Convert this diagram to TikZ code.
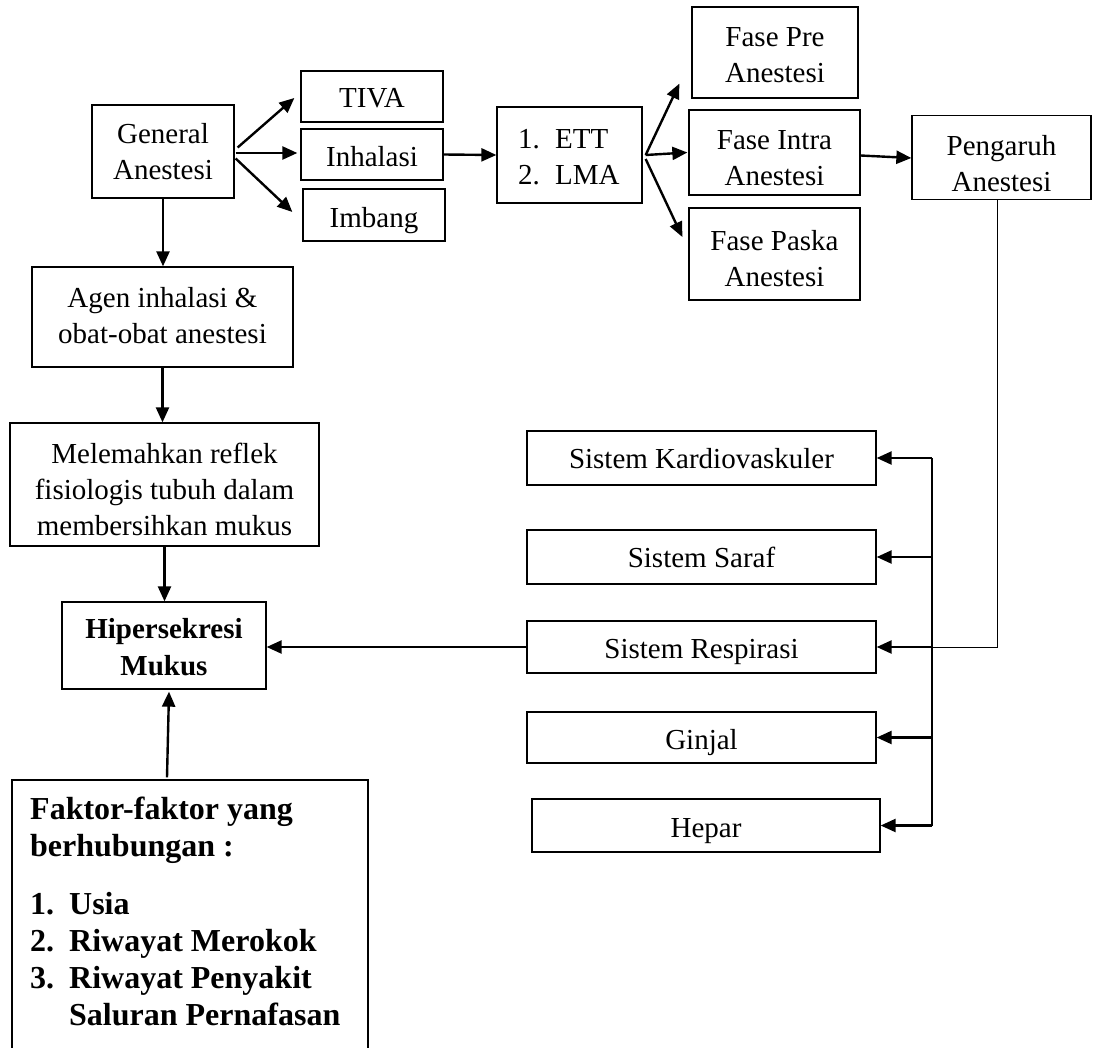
\documentclass[tikz,border=0pt]{standalone}
\usepackage{fontspec}
\setmainfont{Liberation Serif}
\usetikzlibrary{arrows.meta,calc}
\newcommand{\tr}[1]{\rule{0pt}{#1pt}}
\newcommand{\br}{\rule[-8pt]{0pt}{8pt}}
\begin{document}
\begin{tikzpicture}[x=1pt,y=-1pt,
  box/.style={draw, line width=1.3pt, rectangle, align=center, inner sep=0pt, font=\fontsize{29}{36}\selectfont},
  arr/.style={line width=2.4pt, -{Triangle[length=15pt,width=13pt]}},
  thinline/.style={line width=1pt},
  busline/.style={line width=1.7pt}]
\useasboundingbox (0,0) rectangle (1095,1047);
\clip (0,0) rectangle (1095,1047);
\fill[white] (0,0) rectangle (1095,1047);

% top row
\node[box, minimum width=142pt, minimum height=93pt] (gen) at (163,151.5) {\tr{28}General\\Anestesi\br};
\node[box, minimum width=142pt, minimum height=51pt] (tiva) at (372,96.5) {\tr{30}TIVA\br};
\node[box, minimum width=142pt, minimum height=51pt] (inh) at (372,154.5) {\tr{32}Inhalasi\br};
\node[box, minimum width=142pt, minimum height=52pt] (imb) at (374,215) {\tr{33}Imbang\br};
\node[box, minimum width=145pt, minimum height=96pt] (ett) at (569.5,155) {};
\node[anchor=west, inner sep=0pt, align=left, font=\fontsize{29}{36}\selectfont] (etttext) at (518,155)
  {\tr{30}\makebox[37pt][l]{1.}ETT\\\makebox[37pt][l]{2.}LMA\br};
\node[box, minimum width=166pt, minimum height=91pt] (fpre) at (775,52.5) {\tr{31}Fase Pre\\Anestesi\br};
\node[box, minimum width=171pt, minimum height=85pt] (fintra) at (774.5,152.5) {\tr{37}Fase Intra\\Anestesi\br};
\node[box, minimum width=171pt, minimum height=92pt] (fpaska) at (774.5,254) {\tr{36}Fase Paska\\Anestesi\br};
\node[box, minimum width=179pt, minimum height=81pt] (peng) at (1001.5,157.5) {\tr{40}Pengaruh\\Anestesi\br};

% left column
\node[box, minimum width=261pt, minimum height=100pt] (agen) at (162.5,317) {\tr{24}Agen inhalasi \&\\obat-obat anestesi\br};
\node[box, minimum width=309pt, minimum height=123pt] (mel) at (164.5,484.5) {\tr{38}Melemahkan reflek\\fisiologis tubuh dalam\\membersihkan mukus\br};
\node[box, minimum width=204pt, minimum height=87pt, font=\bfseries\fontsize{29}{37}\selectfont] (hip) at (164,645.5) {\tr{30}Hipersekresi\\Mukus\br};
\node[box, minimum width=356pt, minimum height=300pt] (fak) at (190,930) {};
\node[anchor=north west, inner sep=0pt, align=left, font=\bfseries\fontsize{32}{37}\selectfont] (faktext) at (30,797)
  {Faktor-faktor yang\\berhubungan :\\[21pt]\makebox[39pt][l]{1.}Usia\\\makebox[39pt][l]{2.}Riwayat Merokok\\\makebox[39pt][l]{3.}Riwayat Penyakit\\\hspace*{39pt}Saluran Pernafasan};

% systems
\node[box, minimum width=349pt, minimum height=54pt] (kard) at (701.5,458) {\tr{28}Sistem Kardiovaskuler\br};
\node[box, minimum width=349pt, minimum height=54pt] (saraf) at (701.5,557) {\tr{28}Sistem Saraf\br};
\node[box, minimum width=349pt, minimum height=52pt] (resp) at (701.5,647) {\tr{30}Sistem Respirasi\br};
\node[box, minimum width=349pt, minimum height=51pt] (ginjal) at (701.5,737.5) {\tr{32}Ginjal\br};
\node[box, minimum width=348pt, minimum height=53pt] (hepar) at (706,825.5) {\tr{31}Hepar\br};

% connectors
\draw[arr] ($(gen.east)+(3,-4)$) -- ($(tiva.west)+(-6,1.5)$);
\draw[arr] ($(gen.east)+(1,1.5)$) -- ($(inh.west)+(-3,-1.5)$);
\draw[arr] ($(gen.east)+(1,7)$) -- ($(imb.west)+(-10,-3)$);
\draw[arr] (gen.south) -- (gen.south |- agen.north);
\draw[arr] (agen.south) -- (agen.south |- mel.north);
\draw[arr] (mel.south) -- (mel.south |- hip.north);
\draw[arr] (inh.east) -- (ett.west);
\draw[arr] ($(ett.east)+(3,0)$) -- ($(fpre.south west)+(-12,-15)$);
\draw[arr] ($(ett.east)+(3,0)$) -- ($(fintra.west)+(-1,0)$);
\draw[arr] ($(ett.east)+(3,4)$) -- ($(fpaska.west)+(-6,-17)$);
\draw[arr] ($(fintra.east)+(0,3)$) -- ($(peng.west)+(0,0.5)$);

\coordinate (bus) at (932,0);
\draw[busline] (kard.east -| bus) -- (hepar.east -| bus);
\draw[arr] (kard.east -| bus) -- (kard.east);
\draw[arr] (saraf.east -| bus) -- (saraf.east);
\draw[arr] (resp.east -| bus) -- (resp.east);
\draw[arr] (ginjal.east -| bus) -- (ginjal.east);
\draw[arr] (hepar.east -| bus) -- (hepar.east);
\draw[thinline] ($(peng.south)+(-4.5,0)$) |- (resp.east -| bus);

\draw[arr] (resp.west) -- (resp.west -| hip.east);
\draw[arr] ($(fak.north)+(-23,-2)$) -- ($(hip.south)+(5,2)$);
\end{tikzpicture}
\end{document}
